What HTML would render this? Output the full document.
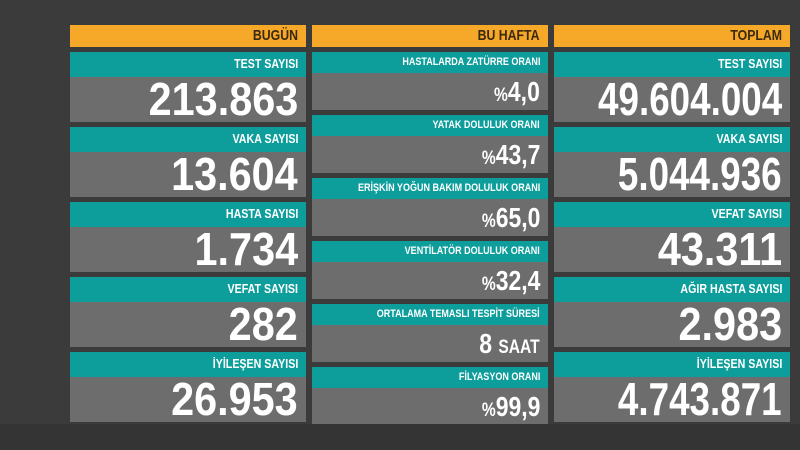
<!DOCTYPE html>
<html><head><meta charset="utf-8"><style>
body{margin:0;width:800px;height:450px;background:#3b3b3b;position:relative;overflow:hidden;font-family:"Liberation Sans Narrow","Liberation Sans",sans-serif;font-weight:bold}
.bot{position:absolute;left:0;top:424px;width:800px;height:26px;background:#343434}
.b{position:absolute;box-sizing:border-box;display:flex;justify-content:flex-end;padding-right:8px;white-space:nowrap;overflow:visible}
.h{background:#f6a828;color:#3a2a10;font-size:15px;line-height:22px}
.t{background:#0d9e9c;color:#fff;font-size:13px;line-height:24px}
.g{background:#6d6d6d;color:#fff}
.s{display:inline-block;flex:none;transform:scaleX(.82);transform-origin:right center}
.v{font-size:46px;line-height:45px}
.v .s{transform:scaleX(.9)}
.r .s{transform:scaleX(.8)}
.m{font-size:11px;line-height:20px}
.mv{font-size:28px;line-height:38px}
.mv small{font-size:19px}
</style></head><body><div class="bot"></div>
<div class="b h" style="left:70px;top:25px;width:236px;height:22px"><span class="s">BUGÜN</span></div>
<div class="b h" style="left:312px;top:25px;width:236px;height:22px"><span class="s">BU HAFTA</span></div>
<div class="b h" style="left:554px;top:25px;width:236px;height:22px"><span class="s">TOPLAM</span></div>

<div class="b t" style="left:70px;top:52px;width:236px;height:25px"><span class="s">TEST SAYISI</span></div>
<div class="b g v" style="left:70px;top:77px;width:236px;height:45px"><span class="s">213.863</span></div>
<div class="b t" style="left:70px;top:127px;width:236px;height:25px"><span class="s">VAKA SAYISI</span></div>
<div class="b g v" style="left:70px;top:152px;width:236px;height:45px"><span class="s">13.604</span></div>
<div class="b t" style="left:70px;top:202px;width:236px;height:25px"><span class="s">HASTA SAYISI</span></div>
<div class="b g v" style="left:70px;top:227px;width:236px;height:45px"><span class="s">1.734</span></div>
<div class="b t" style="left:70px;top:277px;width:236px;height:25px"><span class="s">VEFAT SAYISI</span></div>
<div class="b g v" style="left:70px;top:302px;width:236px;height:45px"><span class="s">282</span></div>
<div class="b t" style="left:70px;top:352px;width:236px;height:25px"><span class="s">İYİLEŞEN SAYISI</span></div>
<div class="b g v" style="left:70px;top:377px;width:236px;height:45px"><span class="s">26.953</span></div>

<div class="b t" style="left:554px;top:52px;width:236px;height:25px"><span class="s">TEST SAYISI</span></div>
<div class="b g v r" style="left:554px;top:77px;width:236px;height:45px"><span class="s">49.604.004</span></div>
<div class="b t" style="left:554px;top:127px;width:236px;height:25px"><span class="s">VAKA SAYISI</span></div>
<div class="b g v r" style="left:554px;top:152px;width:236px;height:45px"><span class="s">5.044.936</span></div>
<div class="b t" style="left:554px;top:202px;width:236px;height:25px"><span class="s">VEFAT SAYISI</span></div>
<div class="b g v" style="left:554px;top:227px;width:236px;height:45px"><span class="s">43.311</span></div>
<div class="b t" style="left:554px;top:277px;width:236px;height:25px"><span class="s">AĞIR HASTA SAYISI</span></div>
<div class="b g v" style="left:554px;top:302px;width:236px;height:45px"><span class="s">2.983</span></div>
<div class="b t" style="left:554px;top:352px;width:236px;height:25px"><span class="s">İYİLEŞEN SAYISI</span></div>
<div class="b g v r" style="left:554px;top:377px;width:236px;height:45px"><span class="s">4.743.871</span></div>

<div class="b t m" style="left:312px;top:52px;width:236px;height:21px"><span class="s">HASTALARDA ZATÜRRE ORANI</span></div>
<div class="b g mv" style="left:312px;top:73px;width:236px;height:37px"><span class="s"><small>%</small>4,0</span></div>
<div class="b t m" style="left:312px;top:115px;width:236px;height:21px"><span class="s">YATAK DOLULUK ORANI</span></div>
<div class="b g mv" style="left:312px;top:136px;width:236px;height:37px"><span class="s"><small>%</small>43,7</span></div>
<div class="b t m" style="left:312px;top:178px;width:236px;height:21px"><span class="s">ERİŞKİN YOĞUN BAKIM DOLULUK ORANI</span></div>
<div class="b g mv" style="left:312px;top:199px;width:236px;height:37px"><span class="s"><small>%</small>65,0</span></div>
<div class="b t m" style="left:312px;top:241px;width:236px;height:21px"><span class="s">VENTİLATÖR DOLULUK ORANI</span></div>
<div class="b g mv" style="left:312px;top:262px;width:236px;height:37px"><span class="s"><small>%</small>32,4</span></div>
<div class="b t m" style="left:312px;top:304px;width:236px;height:21px"><span class="s">ORTALAMA TEMASLI TESPİT SÜRESİ</span></div>
<div class="b g mv" style="left:312px;top:325px;width:236px;height:37px"><span class="s">8 <small>SAAT</small></span></div>
<div class="b t m" style="left:312px;top:367px;width:236px;height:21px"><span class="s">FİLYASYON ORANI</span></div>
<div class="b g mv" style="left:312px;top:388px;width:236px;height:36px"><span class="s"><small>%</small>99,9</span></div>
</body></html>
